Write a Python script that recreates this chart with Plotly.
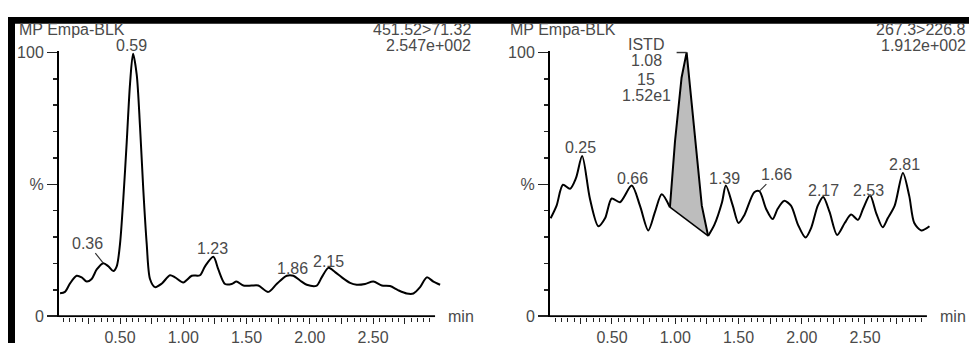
import plotly.graph_objects as go

# ---------------- data ----------------
left_t = [0.026, 0.065, 0.105, 0.157, 0.197, 0.237, 0.276, 0.316, 0.368, 0.408, 0.447, 0.474,
          0.500, 0.526, 0.553, 0.579, 0.603, 0.632, 0.658, 0.684, 0.711, 0.737, 0.777, 0.829,
          0.895, 0.935, 1.000, 1.067, 1.132, 1.172, 1.238, 1.277, 1.330, 1.383, 1.420, 1.475,
          1.540, 1.593, 1.672, 1.738, 1.818, 1.870, 1.923, 1.976, 2.055, 2.094, 2.147, 2.200,
          2.253, 2.318, 2.371, 2.437, 2.502, 2.569, 2.634, 2.700, 2.766, 2.819, 2.872, 2.925,
          2.977, 3.030]
left_v = [8.7, 9.2, 12.4, 15.3, 14.7, 13.1, 14.1, 17.7, 20.1, 18.9, 17.1, 18.9,
          27.4, 44.4, 66.0, 88.0, 99.5, 91.6, 72.0, 48.0, 27.4, 14.1, 11.0, 12.3,
          15.5, 14.7, 12.8, 15.3, 15.5, 18.9, 22.5, 17.7, 12.2, 12.2, 13.1, 11.6,
          11.6, 11.6, 9.2, 12.2, 15.3, 15.3, 13.5, 11.9, 11.6, 14.7, 18.3, 16.7,
          14.7, 12.6, 11.9, 12.2, 13.1, 11.6, 11.4, 9.8, 8.6, 8.6, 11.0, 14.7,
          13.1, 11.9]

right_t = [0.015, 0.062, 0.112, 0.168, 0.215, 0.264, 0.326, 0.392, 0.445, 0.498, 0.563, 0.656,
           0.721, 0.787, 0.840, 0.893, 0.958, 0.998, 1.050, 1.090, 1.130, 1.170, 1.210, 1.260,
           1.310, 1.370, 1.400, 1.455, 1.500, 1.545, 1.625, 1.665, 1.718, 1.770, 1.810, 1.860,
           1.915, 1.970, 2.030, 2.075, 2.127, 2.170, 2.220, 2.280, 2.340, 2.390, 2.445, 2.485,
           2.540, 2.590, 2.640, 2.680, 2.735, 2.800, 2.850, 2.890, 2.945, 3.010]
right_v = [37.1, 41.9, 49.8, 48.3, 52.3, 60.7, 44.4, 34.1, 37.1, 44.6, 43.2, 49.5,
           41.9, 32.5, 39.5, 46.2, 41.3, 66.2, 90.4, 100.0, 80.7, 60.1, 41.9, 30.4,
           34.7, 43.2, 49.5, 41.9, 35.3, 38.2, 47.0, 47.4, 40.7, 36.8, 40.7, 43.7,
           41.9, 34.7, 29.8, 33.5, 41.9, 45.2, 39.5, 30.8, 35.3, 38.5, 36.5, 40.7,
           45.8, 38.9, 33.7, 37.1, 41.9, 54.3, 45.6, 35.3, 32.5, 34.1]

istd_start, istd_end = 0.958, 1.260

left_peaks = ["0.59", "1.23", "1.86", "2.15"]
left_peak_v = [99.5, 22.5, 14.9, 17.6]
left_lead = ("0.36", 0.368, 20.1)

right_peaks = ["0.25", "0.66", "1.39", "2.17", "2.53", "2.81"]
right_peak_v = [60.7, 49.0, 49.0, 44.6, 44.6, 54.4]
right_lead = ("1.66", 1.665, 47.4)
istd_text = ["ISTD", "1.08", "15", "1.52e1"]

titles = ["MP Empa-BLK", "MP Empa-BLK"]
transitions = ["451.52>71.32", "267.3>226.8"]
intensities = ["2.547e+002", "1.912e+002"]

x_major = [0.25, 0.50, 0.75, 1.00, 1.25, 1.50, 1.75, 2.00, 2.25, 2.50, 2.75]
x_major_text = ["", "0.50", "", "1.00", "", "1.50", "", "2.00", "", "2.50", ""]
x_minor = [round(i * 0.05, 2) for i in range(1, 60) if i % 5 != 0]
y_major = [0, 50, 100]
y_major_text = ["0", "%", "100"]
y_minor = [10, 20, 30, 40, 60, 70, 80, 90]
x_axis_end = 2.99

# ---------------- geometry ----------------
# page is 977x358; the html body keeps its default 8px margin, so the figure is 961x342
PAGE_W, PAGE_H, OFF = 977, 358, 8
W, H = PAGE_W - 2 * OFF, PAGE_H - 2 * OFF


def px(x):
    return (x - OFF) / W


def py(y):
    return 1 - (y - OFF) / H


FONT = "Liberation Sans, Arial, Helvetica, sans-serif"
TXT = "#4a4a4a"
fs = 16

fig = go.Figure()

ydom = [py(323.1), py(45.9)]
panels = [
    dict(xa="x", ya="y", dom=[px(59), px(441)], rng=[0.0178, 3.037]),
    dict(xa="x2", ya="y2", dom=[px(550), px(932)], rng=[0.0099, 3.030]),
]


def line(xs, ys, xa, ya, width=2, color="black", shape="linear"):
    fig.add_trace(go.Scatter(x=xs, y=ys, xaxis=xa, yaxis=ya, mode="lines",
                             line=dict(color=color, width=width, shape=shape, smoothing=0.8),
                             hoverinfo="skip", showlegend=False))


# left curve
line(left_t, left_v, "x", "y", shape="spline")

# right curve split around ISTD peak
i0 = right_t.index(istd_start)
i1 = right_t.index(istd_end)
istd_t = right_t[i0:i1 + 1]
istd_v = right_v[i0:i1 + 1]
fig.add_trace(go.Scatter(x=istd_t + [istd_t[0]], y=istd_v + [istd_v[0]], xaxis="x2", yaxis="y2",
                         mode="lines", fill="toself", fillcolor="#bdbdbd",
                         line=dict(width=0, color="rgba(0,0,0,0)"), hoverinfo="skip", showlegend=False))
line(right_t[:i0 + 1], right_v[:i0 + 1], "x2", "y2", shape="spline")
line(istd_t, istd_v, "x2", "y2")
line(right_t[i1:], right_v[i1:], "x2", "y2", shape="spline")
line([istd_t[0], istd_t[-1]], [istd_v[0], istd_v[-1]], "x2", "y2", width=1.5)
# ISTD leader
apex_i = istd_v.index(max(istd_v))
line([1.011, istd_t[apex_i]], [istd_v[apex_i], istd_v[apex_i]], "x2", "y2", width=1.5, color="#333")

# x baselines
for p in panels:
    line([p["rng"][0], x_axis_end], [0, 0], p["xa"], p["ya"], width=2)

ann = []
for k, p in enumerate(panels):
    n = "" if k == 0 else "2"
    fig.layout["xaxis" + n] = dict(
        domain=p["dom"], range=p["rng"], anchor="y" + n, showline=False, showgrid=False,
        zeroline=False, ticks="outside", tickvals=x_major, ticktext=x_major_text,
        ticklen=6, tickwidth=1, tickcolor="#222", tickfont=dict(family=FONT, size=fs, color=TXT),
        minor=dict(tickvals=x_minor, ticks="outside", ticklen=3.5, tickwidth=1, tickcolor="#222"),
        fixedrange=True)
    fig.layout["yaxis" + n] = dict(
        domain=ydom, range=[-0.4, 100.4], anchor="x" + n, showline=True, linewidth=2, linecolor="black",
        showgrid=False, zeroline=False, ticks="outside", tickvals=y_major, ticktext=y_major_text,
        ticklen=10, tickwidth=1.5, tickcolor="#222", tickfont=dict(family=FONT, size=fs, color=TXT),
        minor=dict(tickvals=y_minor, ticks="outside", ticklen=4, tickwidth=1.5, tickcolor="#222"),
        fixedrange=True)
    ann.append(dict(x=x_axis_end, y=0, xref=p["xa"], yref=p["ya"], text="min", showarrow=False,
                    xanchor="left", yanchor="middle", xshift=11, font=dict(family=FONT, size=fs, color=TXT)))

# headers
hdr = [(17, 473), (508, 968)]
for k in range(2):
    ann.append(dict(x=px(hdr[k][0]), y=py(23), xref="paper", yref="paper", text=titles[k],
                    showarrow=False, xanchor="left", yanchor="middle",
                    font=dict(family=FONT, size=fs, color=TXT)))
    ann.append(dict(x=px(hdr[k][1]), y=py(23), xref="paper", yref="paper", text=transitions[k],
                    showarrow=False, xanchor="right", yanchor="middle",
                    font=dict(family=FONT, size=fs, color=TXT)))
    ann.append(dict(x=px(hdr[k][1]), y=py(40), xref="paper", yref="paper", text=intensities[k],
                    showarrow=False, xanchor="right", yanchor="middle",
                    font=dict(family=FONT, size=fs, color=TXT)))

# peak labels
for lab, v in zip(left_peaks, left_peak_v):
    ann.append(dict(x=float(lab), y=v, xref="x", yref="y", text=lab, showarrow=False,
                    yanchor="bottom", yshift=-2, font=dict(family=FONT, size=fs, color=TXT)))
for lab, v in zip(right_peaks, right_peak_v):
    ann.append(dict(x=float(lab), y=v, xref="x2", yref="y2", text=lab, showarrow=False,
                    yanchor="bottom", yshift=-2, font=dict(family=FONT, size=fs, color=TXT)))
ann.append(dict(x=left_lead[1], y=left_lead[2], xref="x", yref="y", text=left_lead[0], showarrow=True,
                arrowhead=0, arrowwidth=1.2, arrowcolor="#333", ax=-16, ay=-20,
                font=dict(family=FONT, size=fs, color=TXT)))
ann.append(dict(x=right_lead[1], y=right_lead[2], xref="x2", yref="y2", text=right_lead[0], showarrow=True,
                arrowhead=0, arrowwidth=1.2, arrowcolor="#333", ax=17, ay=-17,
                font=dict(family=FONT, size=fs, color=TXT)))
istd_shift = [8, -8.5, -27, -43]
for txt, sh in zip(istd_text, istd_shift):
    ann.append(dict(x=0.769, y=100, xref="x2", yref="y2", text=txt, showarrow=False, yshift=sh,
                    xanchor="center", yanchor="middle", font=dict(family=FONT, size=fs, color=TXT)))

shapes = [
    dict(type="rect", xref="paper", yref="paper", x0=0, x1=1, y0=py(17), y1=py(10),
         fillcolor="black", line=dict(width=0)),
    dict(type="rect", xref="paper", yref="paper", x0=0, x1=px(15), y0=0, y1=py(10),
         fillcolor="black", line=dict(width=0)),
]

fig.update_layout(width=W, height=H, autosize=False, margin=dict(l=0, r=0, t=0, b=0, pad=0),
                  paper_bgcolor="white", plot_bgcolor="white", annotations=ann, shapes=shapes,
                  font=dict(family=FONT, size=fs, color=TXT), showlegend=False)

fig.write_html("out.html", config={"displayModeBar": False, "staticPlot": True})
